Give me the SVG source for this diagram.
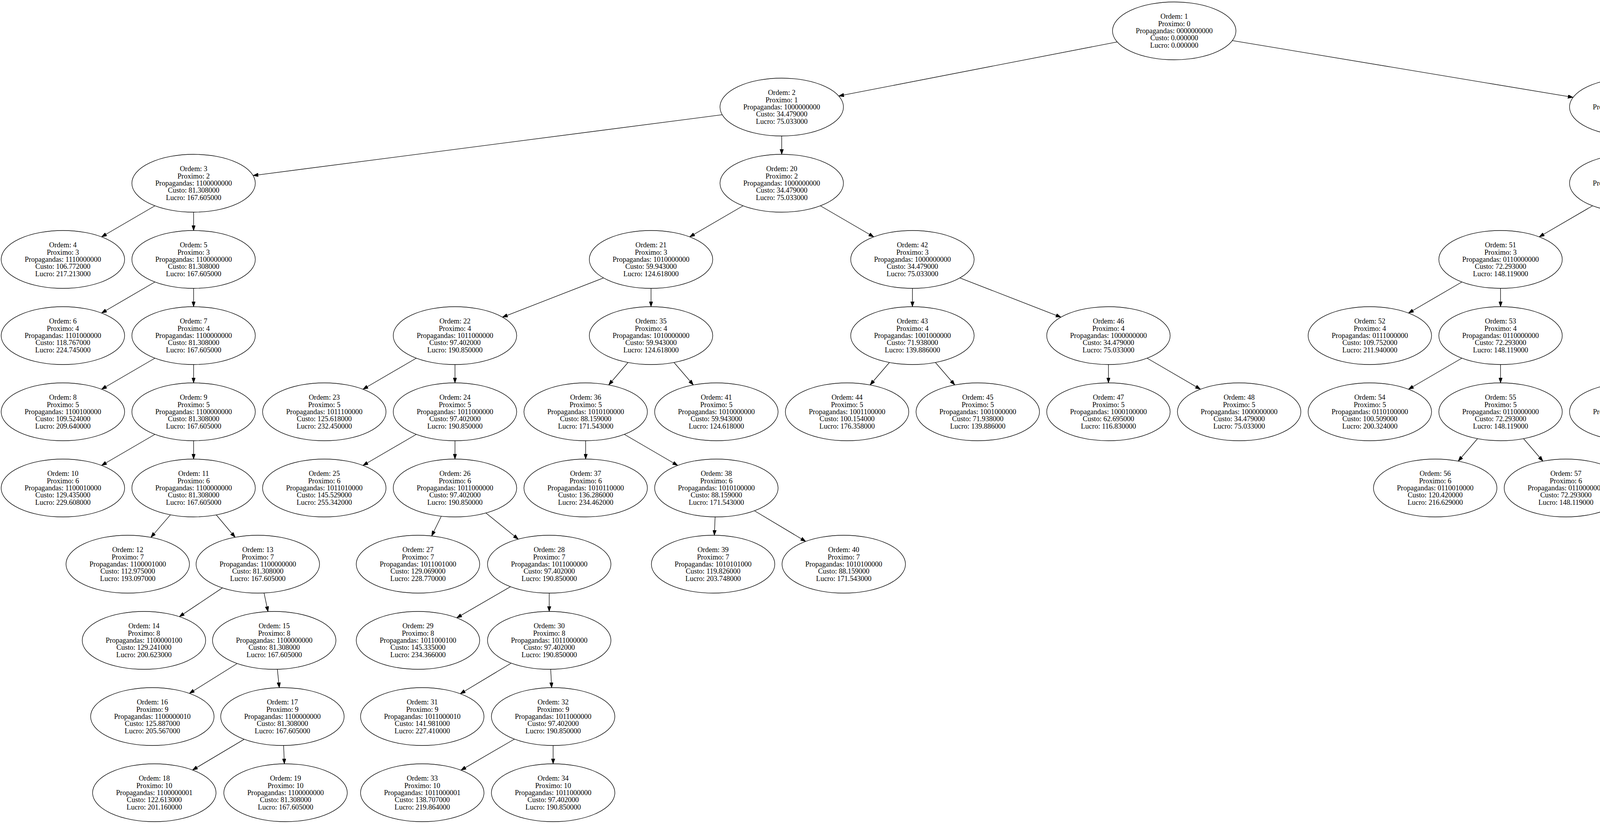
<svg xmlns="http://www.w3.org/2000/svg" width="6680" height="2109" viewBox="0 0 6680 2109">
<style>
.n ellipse{fill:none;stroke:#000;stroke-width:1.33}
.n text{font-family:"Liberation Serif","Times New Roman",serif;font-size:18.5px;text-anchor:middle;fill:#000}
.e line{stroke:#000;stroke-width:1.33;marker-end:url(#a)}
</style>
<defs>
<marker id="a" viewBox="0 0 13.3 9.4" refX="13.3" refY="4.7" markerWidth="13.3" markerHeight="9.4" markerUnits="userSpaceOnUse" orient="auto"><path d="M0,0L13.3,4.7L0,9.4z" fill="#000" stroke="#000" stroke-width="1"/></marker>
<g id="t"/>
</defs>
<rect width="6680" height="2109" fill="#fff"/>
<g class="e">
<line x1="2860" y1="107.3" x2="2147.2" y2="245.7"/>
<line x1="3154.9" y1="103.8" x2="4027.1" y2="249.2"/>
<line x1="1848.9" y1="293.7" x2="647.9" y2="449.3"/>
<line x1="2001.2" y1="348" x2="2001.2" y2="395"/>
<line x1="396.6" y1="526.7" x2="260" y2="606.3"/>
<line x1="495.6" y1="543" x2="495.6" y2="590"/>
<line x1="396.6" y1="721.7" x2="260" y2="801.3"/>
<line x1="495.6" y1="738" x2="495.6" y2="785"/>
<line x1="396.6" y1="916.7" x2="260" y2="996.3"/>
<line x1="495.6" y1="933" x2="495.6" y2="980"/>
<line x1="396.6" y1="1111.7" x2="260" y2="1191.3"/>
<line x1="495.6" y1="1128" x2="495.6" y2="1175"/>
<line x1="436.3" y1="1317.6" x2="386.3" y2="1375.4"/>
<line x1="553.6" y1="1317.8" x2="602" y2="1375.2"/>
<line x1="569.4" y1="1504.6" x2="459.1" y2="1578.4"/>
<line x1="675.9" y1="1517.6" x2="686.1" y2="1565.4"/>
<line x1="607.3" y1="1698.2" x2="484.8" y2="1774.8"/>
<line x1="710" y1="1712.9" x2="715" y2="1760.1"/>
<line x1="625.2" y1="1892.1" x2="492.8" y2="1970.9"/>
<line x1="726" y1="1908" x2="728" y2="1955"/>
<line x1="1902.2" y1="526.7" x2="1765.6" y2="606.3"/>
<line x1="2100.2" y1="526.7" x2="2236.8" y2="606.3"/>
<line x1="1545" y1="711.3" x2="1286.3" y2="811.8"/>
<line x1="1666.6" y1="738" x2="1666.6" y2="785"/>
<line x1="1065.7" y1="916.7" x2="929.2" y2="996.3"/>
<line x1="1164.7" y1="933" x2="1164.7" y2="980"/>
<line x1="1065.7" y1="1111.7" x2="929.2" y2="1191.3"/>
<line x1="1164.7" y1="1128" x2="1164.7" y2="1175"/>
<line x1="1129.7" y1="1321.2" x2="1105" y2="1371.8"/>
<line x1="1243.9" y1="1313" x2="1326.8" y2="1380"/>
<line x1="1306.8" y1="1501.6" x2="1169.2" y2="1581.4"/>
<line x1="1406" y1="1518" x2="1406" y2="1565"/>
<line x1="1308.8" y1="1697.3" x2="1178.2" y2="1775.7"/>
<line x1="1409.8" y1="1713" x2="1412.2" y2="1760"/>
<line x1="1317" y1="1891.7" x2="1180" y2="1971.3"/>
<line x1="1416" y1="1908" x2="1416" y2="1955"/>
<line x1="1607.7" y1="927.7" x2="1558.2" y2="985.3"/>
<line x1="1725.5" y1="927.7" x2="1775" y2="985.3"/>
<line x1="1499.3" y1="1128" x2="1499.3" y2="1175"/>
<line x1="1598.3" y1="1111.7" x2="1734.9" y2="1191.3"/>
<line x1="1830.7" y1="1323" x2="1828.7" y2="1370"/>
<line x1="1931.3" y1="1307.3" x2="2062.6" y2="1385.7"/>
<line x1="2335.8" y1="738" x2="2335.8" y2="785"/>
<line x1="2457.4" y1="711.3" x2="2716" y2="811.8"/>
<line x1="2276.9" y1="927.7" x2="2227.4" y2="985.3"/>
<line x1="2394.7" y1="927.7" x2="2444.2" y2="985.3"/>
<line x1="2837.6" y1="933" x2="2837.6" y2="980"/>
<line x1="2936.6" y1="916.7" x2="3073.2" y2="996.3"/>
<line x1="4176" y1="348" x2="4176" y2="395"/>
<line x1="4328.3" y1="293.7" x2="5529.3" y2="449.3"/>
<line x1="4077" y1="526.7" x2="3940.4" y2="606.3"/>
<line x1="4234.9" y1="537.7" x2="4284.4" y2="595.3"/>
<line x1="3742.4" y1="721.7" x2="3605.8" y2="801.3"/>
<line x1="3841.4" y1="738" x2="3841.4" y2="785"/>
<line x1="3742.4" y1="916.7" x2="3605.8" y2="996.3"/>
<line x1="3841.4" y1="933" x2="3841.4" y2="980"/>
<line x1="3782.5" y1="1122.7" x2="3733" y2="1180.3"/>
<line x1="3900.3" y1="1122.7" x2="3949.8" y2="1180.3"/>
<line x1="4343.3" y1="738" x2="4343.3" y2="785"/>
<line x1="4464.9" y1="711.3" x2="4723.5" y2="811.8"/>
<line x1="4284.4" y1="927.7" x2="4234.9" y2="985.3"/>
<line x1="4402.2" y1="927.7" x2="4451.6" y2="985.3"/>
<line x1="4845.1" y1="933" x2="4845.1" y2="980"/>
<line x1="4944.1" y1="916.7" x2="5080.7" y2="996.3"/>
<line x1="5080.7" y1="1111.7" x2="4944.1" y2="1191.3"/>
<line x1="5179.7" y1="1128" x2="5179.7" y2="1175"/>
<line x1="5681.6" y1="543" x2="5681.6" y2="590"/>
<line x1="5803.2" y1="516.3" x2="6061.8" y2="616.8"/>
<line x1="5622.7" y1="732.7" x2="5573.2" y2="790.3"/>
<line x1="5740.5" y1="732.7" x2="5790" y2="790.3"/>
<line x1="5514.3" y1="933" x2="5514.3" y2="980"/>
<line x1="5613.3" y1="916.7" x2="5749.9" y2="996.3"/>
<line x1="5514.3" y1="1128" x2="5514.3" y2="1175"/>
<line x1="5613.3" y1="1111.7" x2="5749.9" y2="1191.3"/>
<line x1="6183.4" y1="738" x2="6183.4" y2="785"/>
<line x1="6282.4" y1="721.7" x2="6419" y2="801.3"/>
</g>
<g id="n1" class="n" transform="translate(3006,79)"><ellipse rx="158" ry="74"/><text><tspan x="0" y="-30.6">Ordem: 1</tspan><tspan x="0" y="-12.3">Proximo: 0</tspan><tspan x="0" y="6">Propagandas: 0000000000</tspan><tspan x="0" y="24.3">Custo: 0.000000</tspan><tspan x="0" y="42.6">Lucro: 0.000000</tspan></text></g>
<g id="n2" class="n" transform="translate(2001.2,274)"><ellipse rx="158" ry="74"/><text><tspan x="0" y="-30.6">Ordem: 2</tspan><tspan x="0" y="-12.3">Proximo: 1</tspan><tspan x="0" y="6">Propagandas: 1000000000</tspan><tspan x="0" y="24.3">Custo: 34.479000</tspan><tspan x="0" y="42.6">Lucro: 75.033000</tspan></text></g>
<g id="n3" class="n" transform="translate(495.6,469)"><ellipse rx="158" ry="74"/><text><tspan x="0" y="-30.6">Ordem: 3</tspan><tspan x="0" y="-12.3">Proximo: 2</tspan><tspan x="0" y="6">Propagandas: 1100000000</tspan><tspan x="0" y="24.3">Custo: 81.308000</tspan><tspan x="0" y="42.6">Lucro: 167.605000</tspan></text></g>
<g id="n4" class="n" transform="translate(161,664)"><ellipse rx="158" ry="74"/><text><tspan x="0" y="-30.6">Ordem: 4</tspan><tspan x="0" y="-12.3">Proximo: 3</tspan><tspan x="0" y="6">Propagandas: 1110000000</tspan><tspan x="0" y="24.3">Custo: 106.772000</tspan><tspan x="0" y="42.6">Lucro: 217.213000</tspan></text></g>
<g id="n5" class="n" transform="translate(495.6,664)"><ellipse rx="158" ry="74"/><text><tspan x="0" y="-30.6">Ordem: 5</tspan><tspan x="0" y="-12.3">Proximo: 3</tspan><tspan x="0" y="6">Propagandas: 1100000000</tspan><tspan x="0" y="24.3">Custo: 81.308000</tspan><tspan x="0" y="42.6">Lucro: 167.605000</tspan></text></g>
<g id="n6" class="n" transform="translate(161,859)"><ellipse rx="158" ry="74"/><text><tspan x="0" y="-30.6">Ordem: 6</tspan><tspan x="0" y="-12.3">Proximo: 4</tspan><tspan x="0" y="6">Propagandas: 1101000000</tspan><tspan x="0" y="24.3">Custo: 118.767000</tspan><tspan x="0" y="42.6">Lucro: 224.745000</tspan></text></g>
<g id="n7" class="n" transform="translate(495.6,859)"><ellipse rx="158" ry="74"/><text><tspan x="0" y="-30.6">Ordem: 7</tspan><tspan x="0" y="-12.3">Proximo: 4</tspan><tspan x="0" y="6">Propagandas: 1100000000</tspan><tspan x="0" y="24.3">Custo: 81.308000</tspan><tspan x="0" y="42.6">Lucro: 167.605000</tspan></text></g>
<g id="n8" class="n" transform="translate(161,1054)"><ellipse rx="158" ry="74"/><text><tspan x="0" y="-30.6">Ordem: 8</tspan><tspan x="0" y="-12.3">Proximo: 5</tspan><tspan x="0" y="6">Propagandas: 1100100000</tspan><tspan x="0" y="24.3">Custo: 109.524000</tspan><tspan x="0" y="42.6">Lucro: 209.640000</tspan></text></g>
<g id="n9" class="n" transform="translate(495.6,1054)"><ellipse rx="158" ry="74"/><text><tspan x="0" y="-30.6">Ordem: 9</tspan><tspan x="0" y="-12.3">Proximo: 5</tspan><tspan x="0" y="6">Propagandas: 1100000000</tspan><tspan x="0" y="24.3">Custo: 81.308000</tspan><tspan x="0" y="42.6">Lucro: 167.605000</tspan></text></g>
<g id="n10" class="n" transform="translate(161,1249)"><ellipse rx="158" ry="74"/><text><tspan x="0" y="-30.6">Ordem: 10</tspan><tspan x="0" y="-12.3">Proximo: 6</tspan><tspan x="0" y="6">Propagandas: 1100010000</tspan><tspan x="0" y="24.3">Custo: 129.435000</tspan><tspan x="0" y="42.6">Lucro: 229.608000</tspan></text></g>
<g id="n11" class="n" transform="translate(495.6,1249)"><ellipse rx="158" ry="74"/><text><tspan x="0" y="-30.6">Ordem: 11</tspan><tspan x="0" y="-12.3">Proximo: 6</tspan><tspan x="0" y="6">Propagandas: 1100000000</tspan><tspan x="0" y="24.3">Custo: 81.308000</tspan><tspan x="0" y="42.6">Lucro: 167.605000</tspan></text></g>
<g id="n12" class="n" transform="translate(327,1444)"><ellipse rx="158" ry="74"/><text><tspan x="0" y="-30.6">Ordem: 12</tspan><tspan x="0" y="-12.3">Proximo: 7</tspan><tspan x="0" y="6">Propagandas: 1100001000</tspan><tspan x="0" y="24.3">Custo: 112.975000</tspan><tspan x="0" y="42.6">Lucro: 193.097000</tspan></text></g>
<g id="n13" class="n" transform="translate(660,1444)"><ellipse rx="158" ry="74"/><text><tspan x="0" y="-30.6">Ordem: 13</tspan><tspan x="0" y="-12.3">Proximo: 7</tspan><tspan x="0" y="6">Propagandas: 1100000000</tspan><tspan x="0" y="24.3">Custo: 81.308000</tspan><tspan x="0" y="42.6">Lucro: 167.605000</tspan></text></g>
<g id="n14" class="n" transform="translate(368.5,1639)"><ellipse rx="158" ry="74"/><text><tspan x="0" y="-30.6">Ordem: 14</tspan><tspan x="0" y="-12.3">Proximo: 8</tspan><tspan x="0" y="6">Propagandas: 1100000100</tspan><tspan x="0" y="24.3">Custo: 129.241000</tspan><tspan x="0" y="42.6">Lucro: 200.623000</tspan></text></g>
<g id="n15" class="n" transform="translate(702,1639)"><ellipse rx="158" ry="74"/><text><tspan x="0" y="-30.6">Ordem: 15</tspan><tspan x="0" y="-12.3">Proximo: 8</tspan><tspan x="0" y="6">Propagandas: 1100000000</tspan><tspan x="0" y="24.3">Custo: 81.308000</tspan><tspan x="0" y="42.6">Lucro: 167.605000</tspan></text></g>
<g id="n16" class="n" transform="translate(390,1834)"><ellipse rx="158" ry="74"/><text><tspan x="0" y="-30.6">Ordem: 16</tspan><tspan x="0" y="-12.3">Proximo: 9</tspan><tspan x="0" y="6">Propagandas: 1100000010</tspan><tspan x="0" y="24.3">Custo: 125.887000</tspan><tspan x="0" y="42.6">Lucro: 205.567000</tspan></text></g>
<g id="n17" class="n" transform="translate(723,1834)"><ellipse rx="158" ry="74"/><text><tspan x="0" y="-30.6">Ordem: 17</tspan><tspan x="0" y="-12.3">Proximo: 9</tspan><tspan x="0" y="6">Propagandas: 1100000000</tspan><tspan x="0" y="24.3">Custo: 81.308000</tspan><tspan x="0" y="42.6">Lucro: 167.605000</tspan></text></g>
<g id="n18" class="n" transform="translate(395,2029)"><ellipse rx="158" ry="74"/><text><tspan x="0" y="-30.6">Ordem: 18</tspan><tspan x="0" y="-12.3">Proximo: 10</tspan><tspan x="0" y="6">Propagandas: 1100000001</tspan><tspan x="0" y="24.3">Custo: 122.613000</tspan><tspan x="0" y="42.6">Lucro: 201.160000</tspan></text></g>
<g id="n19" class="n" transform="translate(731,2029)"><ellipse rx="158" ry="74"/><text><tspan x="0" y="-30.6">Ordem: 19</tspan><tspan x="0" y="-12.3">Proximo: 10</tspan><tspan x="0" y="6">Propagandas: 1100000000</tspan><tspan x="0" y="24.3">Custo: 81.308000</tspan><tspan x="0" y="42.6">Lucro: 167.605000</tspan></text></g>
<g id="n20" class="n" transform="translate(2001.2,469)"><ellipse rx="158" ry="74"/><text><tspan x="0" y="-30.6">Ordem: 20</tspan><tspan x="0" y="-12.3">Proximo: 2</tspan><tspan x="0" y="6">Propagandas: 1000000000</tspan><tspan x="0" y="24.3">Custo: 34.479000</tspan><tspan x="0" y="42.6">Lucro: 75.033000</tspan></text></g>
<g id="n21" class="n" transform="translate(1666.6,664)"><ellipse rx="158" ry="74"/><text><tspan x="0" y="-30.6">Ordem: 21</tspan><tspan x="0" y="-12.3">Proximo: 3</tspan><tspan x="0" y="6">Propagandas: 1010000000</tspan><tspan x="0" y="24.3">Custo: 59.943000</tspan><tspan x="0" y="42.6">Lucro: 124.618000</tspan></text></g>
<g id="n22" class="n" transform="translate(1164.7,859)"><ellipse rx="158" ry="74"/><text><tspan x="0" y="-30.6">Ordem: 22</tspan><tspan x="0" y="-12.3">Proximo: 4</tspan><tspan x="0" y="6">Propagandas: 1011000000</tspan><tspan x="0" y="24.3">Custo: 97.402000</tspan><tspan x="0" y="42.6">Lucro: 190.850000</tspan></text></g>
<g id="n23" class="n" transform="translate(830.2,1054)"><ellipse rx="158" ry="74"/><text><tspan x="0" y="-30.6">Ordem: 23</tspan><tspan x="0" y="-12.3">Proximo: 5</tspan><tspan x="0" y="6">Propagandas: 1011100000</tspan><tspan x="0" y="24.3">Custo: 125.618000</tspan><tspan x="0" y="42.6">Lucro: 232.450000</tspan></text></g>
<g id="n24" class="n" transform="translate(1164.7,1054)"><ellipse rx="158" ry="74"/><text><tspan x="0" y="-30.6">Ordem: 24</tspan><tspan x="0" y="-12.3">Proximo: 5</tspan><tspan x="0" y="6">Propagandas: 1011000000</tspan><tspan x="0" y="24.3">Custo: 97.402000</tspan><tspan x="0" y="42.6">Lucro: 190.850000</tspan></text></g>
<g id="n25" class="n" transform="translate(830.2,1249)"><ellipse rx="158" ry="74"/><text><tspan x="0" y="-30.6">Ordem: 25</tspan><tspan x="0" y="-12.3">Proximo: 6</tspan><tspan x="0" y="6">Propagandas: 1011010000</tspan><tspan x="0" y="24.3">Custo: 145.529000</tspan><tspan x="0" y="42.6">Lucro: 255.342000</tspan></text></g>
<g id="n26" class="n" transform="translate(1164.7,1249)"><ellipse rx="158" ry="74"/><text><tspan x="0" y="-30.6">Ordem: 26</tspan><tspan x="0" y="-12.3">Proximo: 6</tspan><tspan x="0" y="6">Propagandas: 1011000000</tspan><tspan x="0" y="24.3">Custo: 97.402000</tspan><tspan x="0" y="42.6">Lucro: 190.850000</tspan></text></g>
<g id="n27" class="n" transform="translate(1070,1444)"><ellipse rx="158" ry="74"/><text><tspan x="0" y="-30.6">Ordem: 27</tspan><tspan x="0" y="-12.3">Proximo: 7</tspan><tspan x="0" y="6">Propagandas: 1011001000</tspan><tspan x="0" y="24.3">Custo: 129.069000</tspan><tspan x="0" y="42.6">Lucro: 228.770000</tspan></text></g>
<g id="n28" class="n" transform="translate(1406,1444)"><ellipse rx="158" ry="74"/><text><tspan x="0" y="-30.6">Ordem: 28</tspan><tspan x="0" y="-12.3">Proximo: 7</tspan><tspan x="0" y="6">Propagandas: 1011000000</tspan><tspan x="0" y="24.3">Custo: 97.402000</tspan><tspan x="0" y="42.6">Lucro: 190.850000</tspan></text></g>
<g id="n29" class="n" transform="translate(1070,1639)"><ellipse rx="158" ry="74"/><text><tspan x="0" y="-30.6">Ordem: 29</tspan><tspan x="0" y="-12.3">Proximo: 8</tspan><tspan x="0" y="6">Propagandas: 1011000100</tspan><tspan x="0" y="24.3">Custo: 145.335000</tspan><tspan x="0" y="42.6">Lucro: 234.366000</tspan></text></g>
<g id="n30" class="n" transform="translate(1406,1639)"><ellipse rx="158" ry="74"/><text><tspan x="0" y="-30.6">Ordem: 30</tspan><tspan x="0" y="-12.3">Proximo: 8</tspan><tspan x="0" y="6">Propagandas: 1011000000</tspan><tspan x="0" y="24.3">Custo: 97.402000</tspan><tspan x="0" y="42.6">Lucro: 190.850000</tspan></text></g>
<g id="n31" class="n" transform="translate(1081,1834)"><ellipse rx="158" ry="74"/><text><tspan x="0" y="-30.6">Ordem: 31</tspan><tspan x="0" y="-12.3">Proximo: 9</tspan><tspan x="0" y="6">Propagandas: 1011000010</tspan><tspan x="0" y="24.3">Custo: 141.981000</tspan><tspan x="0" y="42.6">Lucro: 227.410000</tspan></text></g>
<g id="n32" class="n" transform="translate(1416,1834)"><ellipse rx="158" ry="74"/><text><tspan x="0" y="-30.6">Ordem: 32</tspan><tspan x="0" y="-12.3">Proximo: 9</tspan><tspan x="0" y="6">Propagandas: 1011000000</tspan><tspan x="0" y="24.3">Custo: 97.402000</tspan><tspan x="0" y="42.6">Lucro: 190.850000</tspan></text></g>
<g id="n33" class="n" transform="translate(1081,2029)"><ellipse rx="158" ry="74"/><text><tspan x="0" y="-30.6">Ordem: 33</tspan><tspan x="0" y="-12.3">Proximo: 10</tspan><tspan x="0" y="6">Propagandas: 1011000001</tspan><tspan x="0" y="24.3">Custo: 138.707000</tspan><tspan x="0" y="42.6">Lucro: 219.864000</tspan></text></g>
<g id="n34" class="n" transform="translate(1416,2029)"><ellipse rx="158" ry="74"/><text><tspan x="0" y="-30.6">Ordem: 34</tspan><tspan x="0" y="-12.3">Proximo: 10</tspan><tspan x="0" y="6">Propagandas: 1011000000</tspan><tspan x="0" y="24.3">Custo: 97.402000</tspan><tspan x="0" y="42.6">Lucro: 190.850000</tspan></text></g>
<g id="n35" class="n" transform="translate(1666.6,859)"><ellipse rx="158" ry="74"/><text><tspan x="0" y="-30.6">Ordem: 35</tspan><tspan x="0" y="-12.3">Proximo: 4</tspan><tspan x="0" y="6">Propagandas: 1010000000</tspan><tspan x="0" y="24.3">Custo: 59.943000</tspan><tspan x="0" y="42.6">Lucro: 124.618000</tspan></text></g>
<g id="n36" class="n" transform="translate(1499.3,1054)"><ellipse rx="158" ry="74"/><text><tspan x="0" y="-30.6">Ordem: 36</tspan><tspan x="0" y="-12.3">Proximo: 5</tspan><tspan x="0" y="6">Propagandas: 1010100000</tspan><tspan x="0" y="24.3">Custo: 88.159000</tspan><tspan x="0" y="42.6">Lucro: 171.543000</tspan></text></g>
<g id="n37" class="n" transform="translate(1499.3,1249)"><ellipse rx="158" ry="74"/><text><tspan x="0" y="-30.6">Ordem: 37</tspan><tspan x="0" y="-12.3">Proximo: 6</tspan><tspan x="0" y="6">Propagandas: 1010110000</tspan><tspan x="0" y="24.3">Custo: 136.286000</tspan><tspan x="0" y="42.6">Lucro: 234.462000</tspan></text></g>
<g id="n38" class="n" transform="translate(1833.9,1249)"><ellipse rx="158" ry="74"/><text><tspan x="0" y="-30.6">Ordem: 38</tspan><tspan x="0" y="-12.3">Proximo: 6</tspan><tspan x="0" y="6">Propagandas: 1010100000</tspan><tspan x="0" y="24.3">Custo: 88.159000</tspan><tspan x="0" y="42.6">Lucro: 171.543000</tspan></text></g>
<g id="n39" class="n" transform="translate(1825.5,1444)"><ellipse rx="158" ry="74"/><text><tspan x="0" y="-30.6">Ordem: 39</tspan><tspan x="0" y="-12.3">Proximo: 7</tspan><tspan x="0" y="6">Propagandas: 1010101000</tspan><tspan x="0" y="24.3">Custo: 119.826000</tspan><tspan x="0" y="42.6">Lucro: 203.748000</tspan></text></g>
<g id="n40" class="n" transform="translate(2160,1444)"><ellipse rx="158" ry="74"/><text><tspan x="0" y="-30.6">Ordem: 40</tspan><tspan x="0" y="-12.3">Proximo: 7</tspan><tspan x="0" y="6">Propagandas: 1010100000</tspan><tspan x="0" y="24.3">Custo: 88.159000</tspan><tspan x="0" y="42.6">Lucro: 171.543000</tspan></text></g>
<g id="n41" class="n" transform="translate(1833.9,1054)"><ellipse rx="158" ry="74"/><text><tspan x="0" y="-30.6">Ordem: 41</tspan><tspan x="0" y="-12.3">Proximo: 5</tspan><tspan x="0" y="6">Propagandas: 1010000000</tspan><tspan x="0" y="24.3">Custo: 59.943000</tspan><tspan x="0" y="42.6">Lucro: 124.618000</tspan></text></g>
<g id="n42" class="n" transform="translate(2335.8,664)"><ellipse rx="158" ry="74"/><text><tspan x="0" y="-30.6">Ordem: 42</tspan><tspan x="0" y="-12.3">Proximo: 3</tspan><tspan x="0" y="6">Propagandas: 1000000000</tspan><tspan x="0" y="24.3">Custo: 34.479000</tspan><tspan x="0" y="42.6">Lucro: 75.033000</tspan></text></g>
<g id="n43" class="n" transform="translate(2335.8,859)"><ellipse rx="158" ry="74"/><text><tspan x="0" y="-30.6">Ordem: 43</tspan><tspan x="0" y="-12.3">Proximo: 4</tspan><tspan x="0" y="6">Propagandas: 1001000000</tspan><tspan x="0" y="24.3">Custo: 71.938000</tspan><tspan x="0" y="42.6">Lucro: 139.886000</tspan></text></g>
<g id="n44" class="n" transform="translate(2168.5,1054)"><ellipse rx="158" ry="74"/><text><tspan x="0" y="-30.6">Ordem: 44</tspan><tspan x="0" y="-12.3">Proximo: 5</tspan><tspan x="0" y="6">Propagandas: 1001100000</tspan><tspan x="0" y="24.3">Custo: 100.154000</tspan><tspan x="0" y="42.6">Lucro: 176.358000</tspan></text></g>
<g id="n45" class="n" transform="translate(2503.1,1054)"><ellipse rx="158" ry="74"/><text><tspan x="0" y="-30.6">Ordem: 45</tspan><tspan x="0" y="-12.3">Proximo: 5</tspan><tspan x="0" y="6">Propagandas: 1001000000</tspan><tspan x="0" y="24.3">Custo: 71.938000</tspan><tspan x="0" y="42.6">Lucro: 139.886000</tspan></text></g>
<g id="n46" class="n" transform="translate(2837.6,859)"><ellipse rx="158" ry="74"/><text><tspan x="0" y="-30.6">Ordem: 46</tspan><tspan x="0" y="-12.3">Proximo: 4</tspan><tspan x="0" y="6">Propagandas: 1000000000</tspan><tspan x="0" y="24.3">Custo: 34.479000</tspan><tspan x="0" y="42.6">Lucro: 75.033000</tspan></text></g>
<g id="n47" class="n" transform="translate(2837.6,1054)"><ellipse rx="158" ry="74"/><text><tspan x="0" y="-30.6">Ordem: 47</tspan><tspan x="0" y="-12.3">Proximo: 5</tspan><tspan x="0" y="6">Propagandas: 1000100000</tspan><tspan x="0" y="24.3">Custo: 62.695000</tspan><tspan x="0" y="42.6">Lucro: 116.830000</tspan></text></g>
<g id="n48" class="n" transform="translate(3172.2,1054)"><ellipse rx="158" ry="74"/><text><tspan x="0" y="-30.6">Ordem: 48</tspan><tspan x="0" y="-12.3">Proximo: 5</tspan><tspan x="0" y="6">Propagandas: 1000000000</tspan><tspan x="0" y="24.3">Custo: 34.479000</tspan><tspan x="0" y="42.6">Lucro: 75.033000</tspan></text></g>
<g id="n49" class="n" transform="translate(4176,274)"><ellipse rx="158" ry="74"/><text><tspan x="0" y="-30.6">Ordem: 49</tspan><tspan x="0" y="-12.3">Proximo: 1</tspan><tspan x="0" y="6">Propagandas: 0000000000</tspan><tspan x="0" y="24.3">Custo: 0.000000</tspan><tspan x="0" y="42.6">Lucro: 0.000000</tspan></text></g>
<g id="n50" class="n" transform="translate(4176,469)"><ellipse rx="158" ry="74"/><text><tspan x="0" y="-30.6">Ordem: 50</tspan><tspan x="0" y="-12.3">Proximo: 2</tspan><tspan x="0" y="6">Propagandas: 0100000000</tspan><tspan x="0" y="24.3">Custo: 46.829000</tspan><tspan x="0" y="42.6">Lucro: 96.408000</tspan></text></g>
<g id="n51" class="n" transform="translate(3841.4,664)"><ellipse rx="158" ry="74"/><text><tspan x="0" y="-30.6">Ordem: 51</tspan><tspan x="0" y="-12.3">Proximo: 3</tspan><tspan x="0" y="6">Propagandas: 0110000000</tspan><tspan x="0" y="24.3">Custo: 72.293000</tspan><tspan x="0" y="42.6">Lucro: 148.119000</tspan></text></g>
<g id="n52" class="n" transform="translate(3506.8,859)"><ellipse rx="158" ry="74"/><text><tspan x="0" y="-30.6">Ordem: 52</tspan><tspan x="0" y="-12.3">Proximo: 4</tspan><tspan x="0" y="6">Propagandas: 0111000000</tspan><tspan x="0" y="24.3">Custo: 109.752000</tspan><tspan x="0" y="42.6">Lucro: 211.940000</tspan></text></g>
<g id="n53" class="n" transform="translate(3841.4,859)"><ellipse rx="158" ry="74"/><text><tspan x="0" y="-30.6">Ordem: 53</tspan><tspan x="0" y="-12.3">Proximo: 4</tspan><tspan x="0" y="6">Propagandas: 0110000000</tspan><tspan x="0" y="24.3">Custo: 72.293000</tspan><tspan x="0" y="42.6">Lucro: 148.119000</tspan></text></g>
<g id="n54" class="n" transform="translate(3506.8,1054)"><ellipse rx="158" ry="74"/><text><tspan x="0" y="-30.6">Ordem: 54</tspan><tspan x="0" y="-12.3">Proximo: 5</tspan><tspan x="0" y="6">Propagandas: 0110100000</tspan><tspan x="0" y="24.3">Custo: 100.509000</tspan><tspan x="0" y="42.6">Lucro: 200.324000</tspan></text></g>
<g id="n55" class="n" transform="translate(3841.4,1054)"><ellipse rx="158" ry="74"/><text><tspan x="0" y="-30.6">Ordem: 55</tspan><tspan x="0" y="-12.3">Proximo: 5</tspan><tspan x="0" y="6">Propagandas: 0110000000</tspan><tspan x="0" y="24.3">Custo: 72.293000</tspan><tspan x="0" y="42.6">Lucro: 148.119000</tspan></text></g>
<g id="n56" class="n" transform="translate(3674.1,1249)"><ellipse rx="158" ry="74"/><text><tspan x="0" y="-30.6">Ordem: 56</tspan><tspan x="0" y="-12.3">Proximo: 6</tspan><tspan x="0" y="6">Propagandas: 0110010000</tspan><tspan x="0" y="24.3">Custo: 120.420000</tspan><tspan x="0" y="42.6">Lucro: 216.629000</tspan></text></g>
<g id="n57" class="n" transform="translate(4008.7,1249)"><ellipse rx="158" ry="74"/><text><tspan x="0" y="-30.6">Ordem: 57</tspan><tspan x="0" y="-12.3">Proximo: 6</tspan><tspan x="0" y="6">Propagandas: 0110000000</tspan><tspan x="0" y="24.3">Custo: 72.293000</tspan><tspan x="0" y="42.6">Lucro: 148.119000</tspan></text></g>
<g id="n58" class="n" transform="translate(4343.3,664)"><ellipse rx="158" ry="74"/><text><tspan x="0" y="-30.6">Ordem: 58</tspan><tspan x="0" y="-12.3">Proximo: 3</tspan><tspan x="0" y="6">Propagandas: 0100000000</tspan><tspan x="0" y="24.3">Custo: 46.829000</tspan><tspan x="0" y="42.6">Lucro: 96.408000</tspan></text></g>
<g id="n59" class="n" transform="translate(4343.3,859)"><ellipse rx="158" ry="74"/><text><tspan x="0" y="-30.6">Ordem: 59</tspan><tspan x="0" y="-12.3">Proximo: 4</tspan><tspan x="0" y="6">Propagandas: 0101000000</tspan><tspan x="0" y="24.3">Custo: 84.288000</tspan><tspan x="0" y="42.6">Lucro: 158.850000</tspan></text></g>
<g id="n60" class="n" transform="translate(4176,1054)"><ellipse rx="158" ry="74"/><text><tspan x="0" y="-30.6">Ordem: 60</tspan><tspan x="0" y="-12.3">Proximo: 5</tspan><tspan x="0" y="6">Propagandas: 0101100000</tspan><tspan x="0" y="24.3">Custo: 112.504000</tspan><tspan x="0" y="42.6">Lucro: 200.602000</tspan></text></g>
<g id="n61" class="n" transform="translate(4510.5,1054)"><ellipse rx="158" ry="74"/><text><tspan x="0" y="-30.6">Ordem: 61</tspan><tspan x="0" y="-12.3">Proximo: 5</tspan><tspan x="0" y="6">Propagandas: 0101000000</tspan><tspan x="0" y="24.3">Custo: 84.288000</tspan><tspan x="0" y="42.6">Lucro: 158.850000</tspan></text></g>
<g id="n62" class="n" transform="translate(4845.1,859)"><ellipse rx="158" ry="74"/><text><tspan x="0" y="-30.6">Ordem: 62</tspan><tspan x="0" y="-12.3">Proximo: 4</tspan><tspan x="0" y="6">Propagandas: 0100000000</tspan><tspan x="0" y="24.3">Custo: 46.829000</tspan><tspan x="0" y="42.6">Lucro: 96.408000</tspan></text></g>
<g id="n63" class="n" transform="translate(4845.1,1054)"><ellipse rx="158" ry="74"/><text><tspan x="0" y="-30.6">Ordem: 63</tspan><tspan x="0" y="-12.3">Proximo: 5</tspan><tspan x="0" y="6">Propagandas: 0100100000</tspan><tspan x="0" y="24.3">Custo: 75.045000</tspan><tspan x="0" y="42.6">Lucro: 143.485000</tspan></text></g>
<g id="n64" class="n" transform="translate(5179.7,1054)"><ellipse rx="158" ry="74"/><text><tspan x="0" y="-30.6">Ordem: 64</tspan><tspan x="0" y="-12.3">Proximo: 5</tspan><tspan x="0" y="6">Propagandas: 0100000000</tspan><tspan x="0" y="24.3">Custo: 46.829000</tspan><tspan x="0" y="42.6">Lucro: 96.408000</tspan></text></g>
<g id="n65" class="n" transform="translate(4845.1,1249)"><ellipse rx="158" ry="74"/><text><tspan x="0" y="-30.6">Ordem: 65</tspan><tspan x="0" y="-12.3">Proximo: 6</tspan><tspan x="0" y="6">Propagandas: 0100010000</tspan><tspan x="0" y="24.3">Custo: 94.956000</tspan><tspan x="0" y="42.6">Lucro: 163.746000</tspan></text></g>
<g id="n66" class="n" transform="translate(5179.7,1249)"><ellipse rx="158" ry="74"/><text><tspan x="0" y="-30.6">Ordem: 66</tspan><tspan x="0" y="-12.3">Proximo: 6</tspan><tspan x="0" y="6">Propagandas: 0100000000</tspan><tspan x="0" y="24.3">Custo: 46.829000</tspan><tspan x="0" y="42.6">Lucro: 96.408000</tspan></text></g>
<g id="n67" class="n" transform="translate(5681.6,469)"><ellipse rx="158" ry="74"/><text><tspan x="0" y="-30.6">Ordem: 67</tspan><tspan x="0" y="-12.3">Proximo: 2</tspan><tspan x="0" y="6">Propagandas: 0000000000</tspan><tspan x="0" y="24.3">Custo: 0.000000</tspan><tspan x="0" y="42.6">Lucro: 0.000000</tspan></text></g>
<g id="n68" class="n" transform="translate(5681.6,664)"><ellipse rx="158" ry="74"/><text><tspan x="0" y="-30.6">Ordem: 68</tspan><tspan x="0" y="-12.3">Proximo: 3</tspan><tspan x="0" y="6">Propagandas: 0010000000</tspan><tspan x="0" y="24.3">Custo: 25.464000</tspan><tspan x="0" y="42.6">Lucro: 51.688000</tspan></text></g>
<g id="n69" class="n" transform="translate(5514.3,859)"><ellipse rx="158" ry="74"/><text><tspan x="0" y="-30.6">Ordem: 69</tspan><tspan x="0" y="-12.3">Proximo: 4</tspan><tspan x="0" y="6">Propagandas: 0011000000</tspan><tspan x="0" y="24.3">Custo: 62.923000</tspan><tspan x="0" y="42.6">Lucro: 123.222000</tspan></text></g>
<g id="n70" class="n" transform="translate(5514.3,1054)"><ellipse rx="158" ry="74"/><text><tspan x="0" y="-30.6">Ordem: 70</tspan><tspan x="0" y="-12.3">Proximo: 5</tspan><tspan x="0" y="6">Propagandas: 0011100000</tspan><tspan x="0" y="24.3">Custo: 91.139000</tspan><tspan x="0" y="42.6">Lucro: 169.864000</tspan></text></g>
<g id="n71" class="n" transform="translate(5514.3,1249)"><ellipse rx="158" ry="74"/><text><tspan x="0" y="-30.6">Ordem: 71</tspan><tspan x="0" y="-12.3">Proximo: 6</tspan><tspan x="0" y="6">Propagandas: 0011110000</tspan><tspan x="0" y="24.3">Custo: 139.266000</tspan><tspan x="0" y="42.6">Lucro: 243.001000</tspan></text></g>
<g id="n72" class="n" transform="translate(5848.9,1249)"><ellipse rx="158" ry="74"/><text><tspan x="0" y="-30.6">Ordem: 72</tspan><tspan x="0" y="-12.3">Proximo: 6</tspan><tspan x="0" y="6">Propagandas: 0011100000</tspan><tspan x="0" y="24.3">Custo: 91.139000</tspan><tspan x="0" y="42.6">Lucro: 169.864000</tspan></text></g>
<g id="n73" class="n" transform="translate(5848.9,1054)"><ellipse rx="158" ry="74"/><text><tspan x="0" y="-30.6">Ordem: 73</tspan><tspan x="0" y="-12.3">Proximo: 5</tspan><tspan x="0" y="6">Propagandas: 0011000000</tspan><tspan x="0" y="24.3">Custo: 62.923000</tspan><tspan x="0" y="42.6">Lucro: 123.222000</tspan></text></g>
<g id="n74" class="n" transform="translate(5848.9,859)"><ellipse rx="158" ry="74"/><text><tspan x="0" y="-30.6">Ordem: 74</tspan><tspan x="0" y="-12.3">Proximo: 4</tspan><tspan x="0" y="6">Propagandas: 0010000000</tspan><tspan x="0" y="24.3">Custo: 25.464000</tspan><tspan x="0" y="42.6">Lucro: 51.688000</tspan></text></g>
<g id="n75" class="n" transform="translate(6183.4,664)"><ellipse rx="158" ry="74"/><text><tspan x="0" y="-30.6">Ordem: 75</tspan><tspan x="0" y="-12.3">Proximo: 3</tspan><tspan x="0" y="6">Propagandas: 0000000000</tspan><tspan x="0" y="24.3">Custo: 0.000000</tspan><tspan x="0" y="42.6">Lucro: 0.000000</tspan></text></g>
<g id="n76" class="n" transform="translate(6183.4,859)"><ellipse rx="158" ry="74"/><text><tspan x="0" y="-30.6">Ordem: 76</tspan><tspan x="0" y="-12.3">Proximo: 4</tspan><tspan x="0" y="6">Propagandas: 0001000000</tspan><tspan x="0" y="24.3">Custo: 37.459000</tspan><tspan x="0" y="42.6">Lucro: 70.155000</tspan></text></g>
<g id="n77" class="n" transform="translate(6518,859)"><ellipse rx="158" ry="74"/><text><tspan x="0" y="-30.6">Ordem: 77</tspan><tspan x="0" y="-12.3">Proximo: 4</tspan><tspan x="0" y="6">Propagandas: 0000000000</tspan><tspan x="0" y="24.3">Custo: 0.000000</tspan><tspan x="0" y="42.6">Lucro: 0.000000</tspan></text></g>
</svg>
